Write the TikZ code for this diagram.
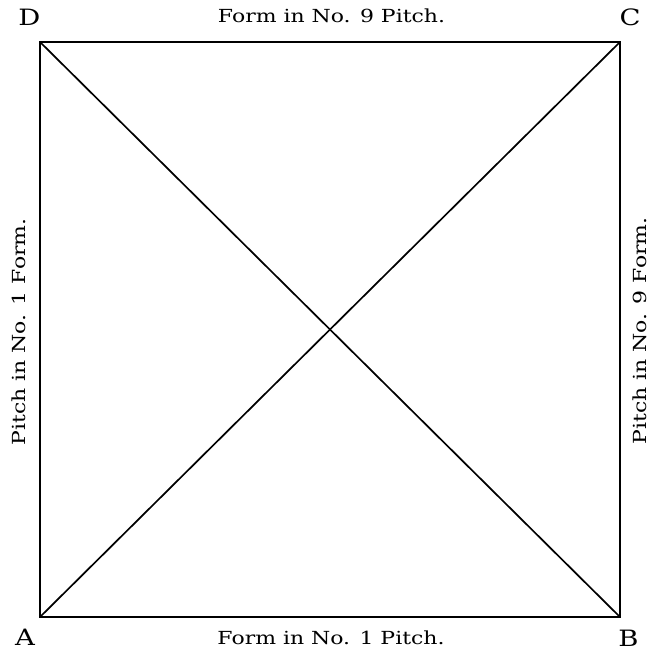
\documentclass[tikz,border=0pt]{standalone}
\usepackage{fontspec}
\setmainfont{DejaVu Serif}
\newcommand{\widetext}[1]{\scalebox{1.22}[1]{#1}}
\begin{document}
\begin{tikzpicture}[x=1pt,y=-1pt,
  edge/.style={line width=2.4pt},
  diag/.style={line width=1.7pt},
  lbl/.style={font=\fontsize{18}{20}\selectfont, inner sep=0pt, anchor=base},
  corner/.style={font=\fontsize{22.5}{24}\selectfont, inner sep=0pt, anchor=base}]
\useasboundingbox[fill=white] (0,0) rectangle (650,652);
\coordinate (A) at (40,617);
\coordinate (B) at (620,617);
\coordinate (C) at (620,42);
\coordinate (D) at (40,42);
\draw[edge, line join=miter] (A) -- (B) -- (C) -- (D) -- cycle;
\draw[diag] (A) -- (C);
\draw[diag] (D) -- (B);
\node[corner] (lD) at (29.5,26) {\widetext{D}};
\node[corner] (lC) at (630,26) {\widetext{C}};
\node[corner] (lA) at (25,645) {\widetext{A}};
\node[corner] (lB) at (628.5,646) {\widetext{B}};
\node[lbl] (top) at (331.5,23) {\widetext{Form in No. 9 Pitch.}};
\node[lbl] (bot) at (331,644) {\widetext{Form in No. 1 Pitch.}};
\node[lbl, rotate=90] (left) at (25,332) {\widetext{Pitch in No. 1 Form.}};
\node[lbl, rotate=90] (right) at (646,331) {\widetext{Pitch in No. 9 Form.}};
\end{tikzpicture}
\end{document}
